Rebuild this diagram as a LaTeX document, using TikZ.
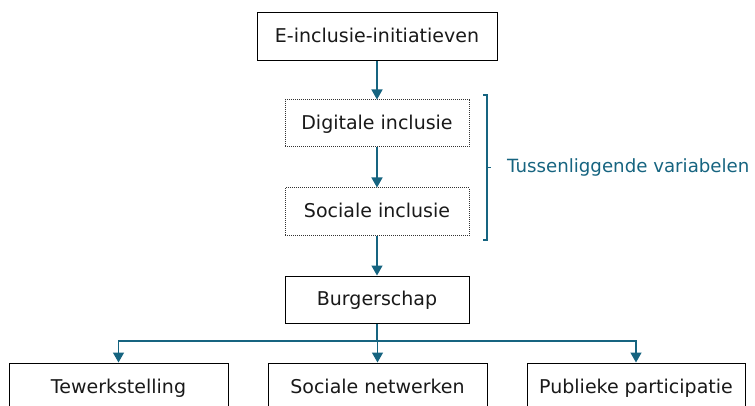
\documentclass[tikz,border=0pt]{standalone}
\usepackage{fontspec}
\setmainfont{DejaVu Sans}
\usetikzlibrary{arrows.meta}
\definecolor{teal}{RGB}{22,100,128}
\tikzset{
  boxstyle/.style={draw=black, line width=1pt, fill=white, inner sep=0pt, font=\fontsize{19}{22}\selectfont, text=black!90, text height=15pt, text depth=3pt},
  dotbox/.style={boxstyle, draw=black!80, dash pattern=on 1pt off 1pt},
  conn/.style={draw=teal, line width=1.4pt},
  arr/.style={conn, -{Triangle[width=11pt,length=10pt]}},
}
\begin{document}
\begin{tikzpicture}[x=1pt,y=-1pt]
\useasboundingbox (0,0) rectangle (755,406);
\clip (0,0) rectangle (755,406);
\node[boxstyle, minimum width=240pt, minimum height=48pt] (init) at (377,37) {E-inclusie-initiatieven};
\node[dotbox, minimum width=184pt, minimum height=47pt] (dig) at (377,123.5) {Digitale inclusie};
\node[dotbox, minimum width=184pt, minimum height=48pt] (soc) at (377,212) {Sociale inclusie};
\node[boxstyle, minimum width=184pt, minimum height=47pt] (burg) at (377,299.5) {Burgerschap};
\node[boxstyle, minimum width=219pt, minimum height=48pt] (tew) at (118.5,387) {Tewerkstelling};
\node[boxstyle, minimum width=219pt, minimum height=48pt] (net) at (377.5,387) {Sociale netwerken};
\node[boxstyle, minimum width=218pt, minimum height=48pt] (pub) at (636,387) {Publieke participatie};
\coordinate (split) at (377,341);
\draw[arr] (init.south) -- (dig.north);
\draw[arr] (dig.south) -- (soc.north);
\draw[arr] (soc.south) -- (burg.north);
\draw[conn] (burg.south) -- (split);
\draw[arr] (split) -| (tew.north);
\draw[arr] (split) -- (split -| net.north) -- (net.north);
\draw[arr] (split) -| (pub.north);
% bracket
\coordinate (btop) at (487,95);
\coordinate (bbot) at (487,240);
\coordinate (bmid) at (487,167.5);
\draw[conn, line width=1.2pt] ([xshift=-4pt]btop) -- (btop) -- (bbot) -- ([xshift=-4pt]bbot);
\draw[conn, line width=1.2pt] (bmid) -- ([xshift=4pt]bmid);
\node[anchor=west, inner sep=0pt, text=teal, font=\fontsize{18.2}{22}\selectfont] (lab) at (507,167) {Tussenliggende variabelen};
\end{tikzpicture}
\end{document}
